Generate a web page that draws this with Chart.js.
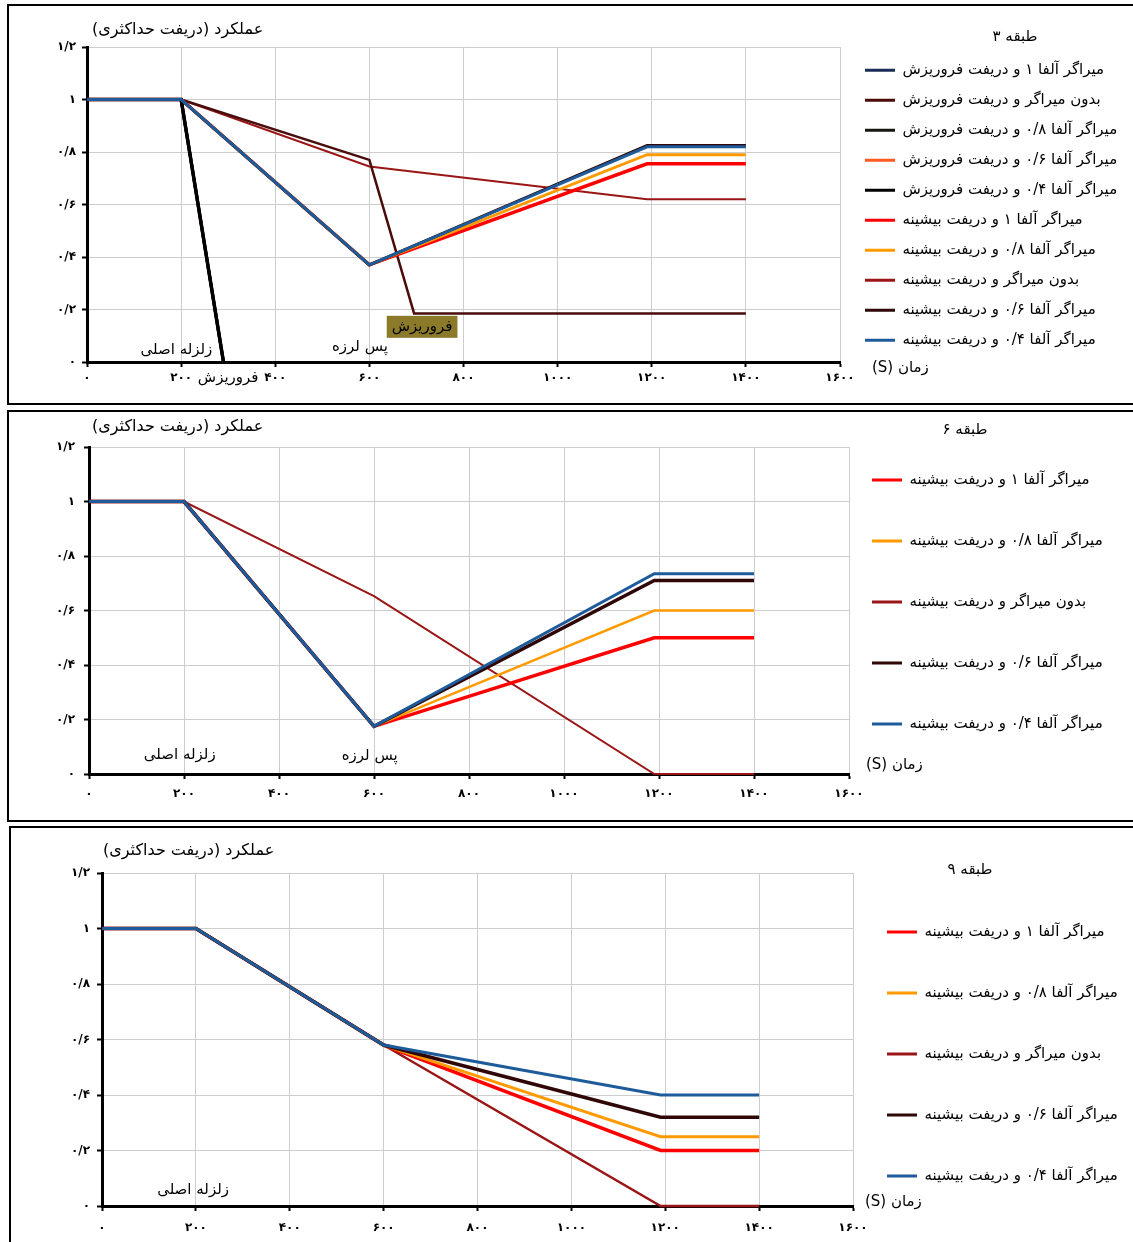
<!DOCTYPE html>
<html lang="fa">
<head>
<meta charset="utf-8">
<title>عملکرد سازه در زلزله اصلی و پس لرزه</title>
<script src="https://cdn.jsdelivr.net/npm/chart.js@4.4.1/dist/chart.umd.min.js"></script>
<style>
  html, body { margin: 0; padding: 0; background: #fff; overflow: hidden; }
  body { width: 1133px; height: 1242px; position: relative; }
  .frame { position: absolute; border: 2px solid #000; box-sizing: border-box; }
  canvas { position: absolute; }
</style>
</head>
<body>
<div class="frame" style="left:7px;top:4px;width:1140px;height:401px"></div>
<div class="frame" style="left:7px;top:410px;width:1140px;height:412px"></div>
<div class="frame" style="left:9px;top:826px;width:1140px;height:430px"></div>
<canvas id="storey3" width="1124" height="397" style="left:9px;top:6px;width:1124px;height:397px"></canvas>
<canvas id="storey6" width="1124" height="408" style="left:9px;top:412px;width:1124px;height:408px"></canvas>
<canvas id="storey9" width="1122" height="414" style="left:11px;top:828px;width:1122px;height:414px"></canvas>
<script>
// ---- axis tick labels (Persian digits) ----
const xTickLabels = ['۰', '۲۰۰', '۴۰۰', '۶۰۰', '۸۰۰', '۱۰۰۰', '۱۲۰۰', '۱۴۰۰', '۱۶۰۰'];
const yTickLabels = ['۰', '۰/۲', '۰/۴', '۰/۶', '۰/۸', '۱', '۱/۲'];

// ---- 3-storey frame: time (s) and performance ----
const times3 = [0, 200, 290, 600, 695, 1190, 1400];
const alpha1Collapse3   = [1, 1, 0, null, null, null, null];
const noDamperCollapse3 = [1, 1, null, 0.77, 0.185, 0.185, 0.185];
const alpha08Collapse3  = [1, 1, 0, null, null, null, null];
const alpha06Collapse3  = [1, 1, 0, null, null, null, null];
const alpha04Collapse3  = [1, 1, 0, null, null, null, null];
const alpha1Max3        = [1, 1, null, 0.37, null, 0.755, 0.755];
const alpha08Max3       = [1, 1, null, 0.37, null, 0.79, 0.79];
const noDamperMax3      = [1, 1, null, 0.745, null, 0.62, 0.62];
const alpha06Max3       = [1, 1, null, 0.37, null, 0.825, 0.825];
const alpha04Max3       = [1, 1, null, 0.37, null, 0.82, 0.82];

// ---- 6-storey frame ----
const times6 = [0, 200, 600, 1190, 1400];
const alpha1Max6   = [1, 1, 0.175, 0.5, 0.5];
const alpha08Max6  = [1, 1, 0.175, 0.6, 0.6];
const noDamperMax6 = [1, 1, 0.653, 0, 0];
const alpha06Max6  = [1, 1, 0.175, 0.71, 0.71];
const alpha04Max6  = [1, 1, 0.175, 0.735, 0.735];

// ---- 9-storey frame ----
const times9 = [0, 200, 600, 1190, 1400];
const alpha1Max9   = [1, 1, 0.58, 0.2, 0.2];
const alpha08Max9  = [1, 1, 0.58, 0.25, 0.25];
const noDamperMax9 = [1, 1, 0.58, 0, 0];
const alpha06Max9  = [1, 1, 0.58, 0.32, 0.32];
const alpha04Max9  = [1, 1, 0.58, 0.4, 0.4];

// ---- series names ----
const nameAlpha1Collapse   = 'میراگر آلفا ۱ و دریفت فروریزش';
const nameNoDamperCollapse = 'بدون میراگر و دریفت فروریزش';
const nameAlpha08Collapse  = 'میراگر آلفا ۰/۸ و دریفت فروریزش';
const nameAlpha06Collapse  = 'میراگر آلفا ۰/۶ و دریفت فروریزش';
const nameAlpha04Collapse  = 'میراگر آلفا ۰/۴ و دریفت فروریزش';
const nameAlpha1Max   = 'میراگر آلفا ۱ و دریفت بیشینه';
const nameAlpha08Max  = 'میراگر آلفا ۰/۸ و دریفت بیشینه';
const nameNoDamperMax = 'بدون میراگر و دریفت بیشینه';
const nameAlpha06Max  = 'میراگر آلفا ۰/۶ و دریفت بیشینه';
const nameAlpha04Max  = 'میراگر آلفا ۰/۴ و دریفت بیشینه';

const FONT = "'DejaVu Sans', 'Noto Sans', sans-serif";
Chart.defaults.font.family = FONT;
Chart.defaults.color = '#000';

// colours
const C = {
  navy: '#1B2B56', maroon: '#4A0B0B', nearBlack: '#151810', redOrange: '#FF5A1E', black: '#000000',
  red: '#FF0000', orange: '#FF9A00', darkRed: '#9A1616', darkBrown: '#300707', blue: '#1E5B9A'
};

function series(label, times, values, color, width, order) {
  return {
    label,
    data: times.map((t, i) => ({ x: t, y: values[i] })),
    borderColor: color,
    backgroundColor: color,
    borderWidth: width,
    order,
    clip: false,
    pointRadius: 0,
    pointHoverRadius: 0,
    tension: 0,
    spanGaps: true,
    fill: false,
    borderJoinStyle: 'miter'
  };
}

// Fixes the legend's reserved width and its drawing box
const legendPlacement = {
  id: 'legendPlacement',
  beforeLayout(chart, args, opts) {
    const legend = chart.legend;
    if (!legend || legend._fixedFit) return;
    const fit = legend.fit;
    legend.fit = function () { fit.call(this); this.width = opts.reserve; };
    legend._fixedFit = true;
  },
  afterLayout(chart, args, opts) {
    const legend = chart.legend;
    if (!legend) return;
    legend.left = opts.left;
    legend.width = opts.width;      // the legend title is centred over this width
    legend.right = chart.width;     // keep the full label text inside the drawing clip
    legend.top = opts.top;
  }
};

// Axis captions and event notes
const panelText = {
  id: 'panelText',
  afterDraw(chart, args, opts) {
    const { ctx, chartArea } = chart;
    const xs = chart.scales.x, ys = chart.scales.y;
    ctx.save();
    ctx.direction = 'rtl';
    ctx.fillStyle = '#000';
    ctx.textBaseline = 'middle';
    ctx.textAlign = 'left';
    ctx.font = '16px ' + FONT;
    ctx.fillText(opts.yTitle, chartArea.left + opts.yTitleAt[0], chartArea.top + opts.yTitleAt[1]);
    ctx.font = '15px ' + FONT;
    ctx.fillText(opts.xTitle, chartArea.right + opts.xTitleAt[0], chartArea.bottom + opts.xTitleAt[1]);
    ctx.textAlign = 'center';
    for (const n of opts.notes) {
      const px = xs.getPixelForValue(n.x);
      const py = n.y === null ? ys.getPixelForValue(0) + opts.belowAxis : ys.getPixelForValue(n.y);
      if (n.boxed) {
        const w = ctx.measureText(n.text).width + 10;
        ctx.fillStyle = '#8A7A2A';
        ctx.fillRect(px - w / 2, py - 11, w, 22);
        ctx.fillStyle = '#000';
      }
      ctx.fillText(n.text, px, py);
    }
    ctx.restore();
  }
};

function makePanel(id, datasets, p) {
  return new Chart(document.getElementById(id), {
    type: 'line',
    data: { datasets },
    options: {
      responsive: false,
      animation: false,
      events: [],
      layout: { padding: { left: 0, top: p.padTop, right: 0, bottom: p.padBottom } },
      scales: {
        x: {
          type: 'linear', min: 0, max: 1600,
          afterFit: s => { s.height = p.xHeight; },
          ticks: {
            stepSize: 200, padding: p.xTickPad,
            font: { size: 12, weight: 'bold' }, color: '#000',
            callback: (v, i) => xTickLabels[i]
          },
          grid: { color: '#cdcdcd', lineWidth: 1, tickColor: '#000', tickLength: 5, tickWidth: 2 },
          border: { color: '#000', width: 3 }
        },
        y: {
          type: 'linear', min: 0, max: 1.2,
          afterFit: s => { s.width = p.yWidth; },
          ticks: {
            stepSize: 0.2, padding: p.yTickPad,
            font: { size: 12, weight: 'bold' }, color: '#000',
            callback: (v, i) => yTickLabels[i]
          },
          grid: { color: '#cdcdcd', lineWidth: 1, tickColor: '#000', tickLength: 5, tickWidth: 2 },
          border: { color: '#000', width: 3 }
        }
      },
      plugins: {
        tooltip: { enabled: false },
        legend: {
          position: 'right',
          align: 'start',
          rtl: false,
          textDirection: 'rtl',
          title: { display: true, text: p.legendTitle, font: { size: 15 }, color: '#000', padding: { top: 0, bottom: p.titleGap } },
          labels: {
            boxWidth: 30, boxHeight: 3, padding: p.legendPad,
            textAlign: 'left', color: '#000', font: { size: 15 },
            sort: (a, b) => a.datasetIndex - b.datasetIndex,
            generateLabels: chart => Chart.defaults.plugins.legend.labels.generateLabels(chart)
              .map(item => Object.assign(item, { fillStyle: item.strokeStyle, lineWidth: 0 }))
          }
        },
        legendPlacement: p.legendBox,
        panelText: {
          yTitle: 'عملکرد (دریفت حداکثری)',
          xTitle: 'زمان (S)',
          yTitleAt: p.yTitleAt,
          xTitleAt: p.xTitleAt,
          belowAxis: 16,
          notes: p.notes
        }
      }
    },
    plugins: [legendPlacement, panelText]
  });
}

// 3-storey
makePanel('storey3', [
  series(nameAlpha1Collapse,   times3, alpha1Collapse3,   C.navy,      3,   4),
  series(nameNoDamperCollapse, times3, noDamperCollapse3, C.maroon,    2.5, 8),
  series(nameAlpha08Collapse,  times3, alpha08Collapse3,  C.nearBlack, 3,   2),
  series(nameAlpha06Collapse,  times3, alpha06Collapse3,  C.redOrange, 3,   3),
  series(nameAlpha04Collapse,  times3, alpha04Collapse3,  C.black,     3.5, 1),
  series(nameAlpha1Max,        times3, alpha1Max3,        C.red,       3.5, 7),
  series(nameAlpha08Max,       times3, alpha08Max3,       C.orange,    3,   6),
  series(nameNoDamperMax,      times3, noDamperMax3,      C.darkRed,   2,   9),
  series(nameAlpha06Max,       times3, alpha06Max3,       C.darkBrown, 3,   5),
  series(nameAlpha04Max,       times3, alpha04Max3,       C.blue,      3,   0)
], {
  padTop: 41, padBottom: 11, xHeight: 30, yWidth: 78, xTickPad: 4, yTickPad: 6,
  legendTitle: '۳ طبقه', titleGap: 0.3, legendPad: 15,
  legendBox: { reserve: 293, left: 841, width: 330, top: 23.5 },
  yTitleAt: [5, -17], xTitleAt: [32, 6],
  notes: [
    { text: 'زلزله اصلی', x: 190, y: 0.047 },
    { text: 'پس لرزه', x: 580, y: 0.058 },
    { text: 'فروریزش', x: 300, y: null },
    { text: 'فروریزش', x: 712, y: 0.134, boxed: true }
  ]
});

// 6-storey
makePanel('storey6', [
  series(nameAlpha1Max,   times6, alpha1Max6,   C.red,       3.5, 3),
  series(nameAlpha08Max,  times6, alpha08Max6,  C.orange,    2.5, 2),
  series(nameNoDamperMax, times6, noDamperMax6, C.darkRed,   2,   4),
  series(nameAlpha06Max,  times6, alpha06Max6,  C.darkBrown, 3.5, 1),
  series(nameAlpha04Max,  times6, alpha04Max6,  C.blue,      3,   0)
], {
  padTop: 35, padBottom: 16, xHeight: 30, yWidth: 80, xTickPad: 8, yTickPad: 9,
  legendTitle: '۶ طبقه', titleGap: -14, legendPad: 46,
  legendBox: { reserve: 284, left: 817, width: 278, top: 10.5 },
  yTitleAt: [3, -20], xTitleAt: [17, -9],
  notes: [
    { text: 'زلزله اصلی', x: 191, y: 0.07 },
    { text: 'پس لرزه', x: 591, y: 0.064 }
  ]
});

// 9-storey
makePanel('storey9', [
  series(nameAlpha1Max,   times9, alpha1Max9,   C.red,       3.5, 3),
  series(nameAlpha08Max,  times9, alpha08Max9,  C.orange,    3,   2),
  series(nameNoDamperMax, times9, noDamperMax9, C.darkRed,   2.5, 4),
  series(nameAlpha06Max,  times9, alpha06Max9,  C.darkBrown, 3.5, 1),
  series(nameAlpha04Max,  times9, alpha04Max9,  C.blue,      3,   0)
], {
  padTop: 45, padBottom: 8, xHeight: 28, yWidth: 91, xTickPad: 10, yTickPad: 7,
  legendTitle: '۹ طبقه', titleGap: -2, legendPad: 46,
  legendBox: { reserve: 280, left: 830, width: 258, top: 34.5 },
  yTitleAt: [1, -22], xTitleAt: [12, -4],
  notes: [
    { text: 'زلزله اصلی', x: 194, y: 0.058 }
  ]
});
</script>
</body>
</html>
